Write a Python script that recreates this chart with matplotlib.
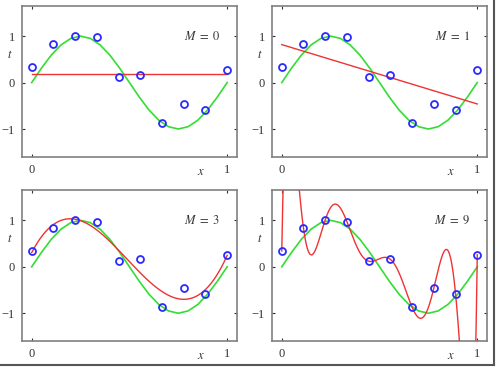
import numpy as np
import matplotlib.pyplot as plt
from matplotlib.lines import Line2D

x_data = [0.0, 1/9, 2/9, 3/9, 4/9, 5/9, 6/9, 7/9, 8/9, 1.0]
t_data = [0.34, 0.83, 1.01, 0.97, 0.12, 0.16, -0.87, -0.46, -0.58, 0.26]

# underlying green curve, sampled every 0.05
x_true = [0.0, 0.05, 0.10, 0.15, 0.20, 0.25, 0.30, 0.35, 0.40, 0.45, 0.50,
          0.55, 0.60, 0.65, 0.70, 0.75, 0.80, 0.85, 0.90, 0.95, 1.0]
t_true = [0.0, 0.31, 0.59, 0.81, 0.95, 1.0, 0.95, 0.81, 0.59, 0.31, 0.0,
          -0.31, -0.59, -0.81, -0.95, -1.0, -0.95, -0.81, -0.59, -0.31, 0.0]

orders = [0, 1, 3, 9]

plt.rcParams['mathtext.fontset'] = 'stix'
plt.rcParams['font.family'] = 'Liberation Serif'

fig, axes = plt.subplots(2, 2, figsize=(4.98, 3.68), dpi=100)
fig.subplots_adjust(left=0.044, right=0.978, top=0.984, bottom=0.073,
                    wspace=0.163, hspace=0.22)

xx = np.linspace(0, 1, 800)
for ax, M in zip(axes.flat, orders):
    # least squares polynomial fit of order M
    coef = np.polyfit(x_data, t_data, M)
    ax.plot(x_true, t_true, color='#33dd33', lw=1.2, zorder=2)
    ax.plot(xx, np.polyval(coef, xx), color='#ee3333', lw=1.0, zorder=3)
    ax.plot(x_data, t_data, 'o', mfc='none', mec='#2a2aff', mew=1.3, ms=5,
            zorder=4)
    ax.set_xlim(-0.05, 1.05)
    ax.set_ylim(-1.6, 1.65)
    ax.set_xticks([0, 1])
    ax.set_yticks([-1, 0, 1])
    ax.set_xticklabels(['0', '1'])
    ax.set_yticklabels(['\u22121', '0', '1'])
    ax.tick_params(direction='in', length=2.5, width=0.8, top=True,
                   right=True, labelsize=9, pad=5, colors='#333333')
    for sp in ax.spines.values():
        sp.set_color('#808080')
        sp.set_linewidth(1.2)
    ax.text(0.84, 0.80, r'$M\ =\ %d$' % M, transform=ax.transAxes,
            fontsize=9, ha='center', va='center', color='#333333')
    ax.text(-0.058, 0.675, '$t$', transform=ax.transAxes, fontsize=9,
            ha='center', va='center', color='#333333')
    ax.text(0.833, -0.10, '$x$', transform=ax.transAxes, fontsize=9,
            ha='center', va='center', color='#333333')

# screenshot border
fig.add_artist(Line2D([0.992, 0.992], [0.008, 1.0], color='#555555', lw=1.5,
                      transform=fig.transFigure))
fig.add_artist(Line2D([0.0, 0.992], [0.008, 0.008], color='#555555', lw=1.5,
                      transform=fig.transFigure))

fig.savefig('out.png', dpi=100)
